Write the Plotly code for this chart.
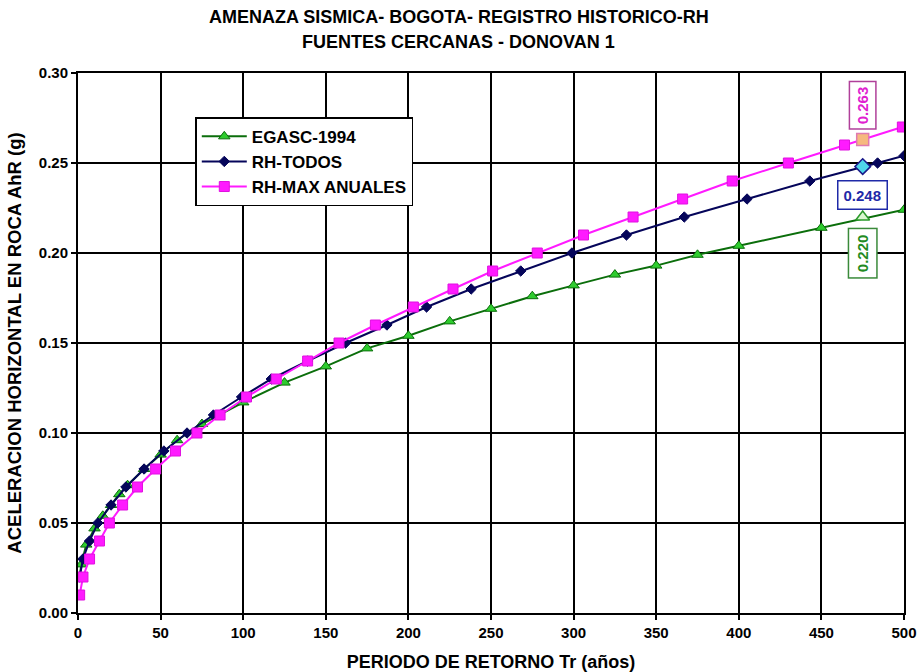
import plotly.graph_objects as go

# EGASC-1994 hazard curve (return period in years vs. rock acceleration in g)
egasc_tr = [1, 2, 5, 10, 15, 20, 25, 30, 40, 50, 60, 75, 100, 125, 150, 175, 200,
            225, 250, 275, 300, 325, 350, 375, 400, 450, 500]
egasc_a = [0.020, 0.027, 0.038, 0.047, 0.054, 0.060, 0.066, 0.071, 0.080, 0.088,
           0.096, 0.105, 0.117, 0.128, 0.137, 0.147, 0.154, 0.162, 0.169, 0.176,
           0.182, 0.188, 0.193, 0.199, 0.204, 0.214, 0.224]

# RH - all events
todos_tr = [1, 3, 7, 12, 20, 29, 40, 52, 66, 82, 99, 117, 139, 162, 187, 211, 238,
            268, 299, 332, 367, 405, 443, 484, 500]
todos_a = [0.020, 0.030, 0.040, 0.050, 0.060, 0.070, 0.080, 0.090, 0.100, 0.110,
           0.120, 0.130, 0.140, 0.150, 0.160, 0.170, 0.180, 0.190, 0.200, 0.210,
           0.220, 0.230, 0.240, 0.250, 0.254]

# RH - annual maxima
maxan_tr = [1, 3, 7, 13, 19, 27, 36, 47, 59, 72, 86, 102, 120, 139, 158, 180, 203,
            227, 251, 278, 306, 336, 366, 396, 430, 464, 499]
maxan_a = [0.010, 0.020, 0.030, 0.040, 0.050, 0.060, 0.070, 0.080, 0.090, 0.100,
           0.110, 0.120, 0.130, 0.140, 0.150, 0.160, 0.170, 0.180, 0.190, 0.200,
           0.210, 0.220, 0.230, 0.240, 0.250, 0.260, 0.270]

# Values at the 475-year design return period
design_tr = 475
design_egasc = 0.220
design_todos = 0.248
design_maxan = 0.263

title_lines = ["AMENAZA SISMICA- BOGOTA- REGISTRO HISTORICO-RH",
               "FUENTES CERCANAS - DONOVAN 1"]

FONT = "Liberation Sans, Arial, sans-serif"

fig = go.Figure()

fig.add_trace(go.Scatter(
    x=egasc_tr, y=egasc_a, name="<b>EGASC-1994</b>", mode="lines+markers",
    line=dict(color="#0b6e0b", width=2),
    marker=dict(symbol="triangle-up", size=10, color="#2ecc2e",
                line=dict(color="#0b6e0b", width=1)),
))
fig.add_trace(go.Scatter(
    x=todos_tr, y=todos_a, name="<b>RH-TODOS</b>", mode="lines+markers",
    line=dict(color="#05055a", width=2),
    marker=dict(symbol="diamond", size=8, color="#05055a",
                line=dict(color="#05055a", width=1)),
))
fig.add_trace(go.Scatter(
    x=maxan_tr, y=maxan_a, name="<b>RH-MAX ANUALES</b>", mode="lines+markers",
    line=dict(color="#ff1aff", width=2),
    marker=dict(symbol="square", size=10, color="#ff1aff",
                line=dict(color="#e010e0", width=1)),
))

# Highlighted design points
fig.add_trace(go.Scatter(
    x=[design_tr], y=[design_egasc], mode="markers", showlegend=False,
    marker=dict(symbol="triangle-up", size=12, color="#d9f7cf",
                line=dict(color="#2a9a2a", width=1.5)),
))
fig.add_trace(go.Scatter(
    x=[design_tr], y=[design_todos], mode="markers", showlegend=False,
    marker=dict(symbol="diamond", size=12, color="#4fd6ea",
                line=dict(color="#1a1a8a", width=1.5)),
))
fig.add_trace(go.Scatter(
    x=[design_tr], y=[design_maxan], mode="markers", showlegend=False,
    marker=dict(symbol="square", size=12, color="#f6b97e",
                line=dict(color="#e07ab0", width=1.5)),
))

annots = [
    dict(x=design_tr, y=0.2822, text=f"<b>{design_maxan:.3f}</b>", textangle=-90,
         font=dict(color="#e020d0", size=15, family=FONT),
         bordercolor="#b0409a", borderwidth=1.5, bgcolor="white", borderpad=4),
    dict(x=design_tr, y=0.2322, text=f"<b>{design_todos:.3f}</b>",
         font=dict(color="#1f2aa8", size=15, family=FONT),
         bordercolor="#1f2aa8", borderwidth=1.5, bgcolor="white", borderpad=5),
    dict(x=design_tr, y=0.2000, text=f"<b>{design_egasc:.3f}</b>", textangle=-90,
         font=dict(color="#228b22", size=15, family=FONT),
         bordercolor="#3a8a3a", borderwidth=1.5, bgcolor="white", borderpad=5),
]
for a in annots:
    a.update(xref="x", yref="y", showarrow=False)

# Two-line chart title, centred on the page
for i, line in enumerate(title_lines):
    annots.append(dict(
        xref="paper", yref="paper", x=(458.5 - 78) / 826, xanchor="center",
        y=(672 - 59 - (17 + 25 * i)) / (672 - 73 - 59), yanchor="middle",
        text=f"<b>{line}</b>", showarrow=False,
        font=dict(size=18, family=FONT, color="black"),
    ))

fig.update_layout(
    width=917, height=672,
    margin=dict(l=78, r=13, t=73, b=59, autoexpand=False),
    paper_bgcolor="white", plot_bgcolor="white",
    font=dict(family=FONT, color="black"),
    legend=dict(
        x=0.142, y=0.918, xanchor="left", yanchor="top",
        bgcolor="white", bordercolor="black", borderwidth=1.5,
        font=dict(size=17, family=FONT), tracegroupgap=0,
        itemwidth=45,
    ),
    annotations=annots,
    showlegend=True,
)

fig.update_xaxes(
    range=[0, 500], dtick=50, tick0=0, automargin=False,
    showgrid=True, gridcolor="black", gridwidth=1.5,
    showline=True, linecolor="black", linewidth=2, mirror=True,
    ticks="outside", ticklen=5, tickcolor="black", tickwidth=1.5,
    tickfont=dict(size=15, family=FONT),
    tickprefix="<b>", ticksuffix="</b>",
    title=dict(text="<b>PERIODO DE RETORNO Tr (años)</b>",
               font=dict(size=18, family=FONT), standoff=17),
    zeroline=False,
)
fig.update_yaxes(
    range=[0, 0.30], dtick=0.05, tick0=0, tickformat=".2f", automargin=False,
    showgrid=True, gridcolor="black", gridwidth=1.5,
    showline=True, linecolor="black", linewidth=2, mirror=True,
    ticks="outside", ticklen=5, tickcolor="black", tickwidth=1.5,
    tickfont=dict(size=15, family=FONT),
    tickprefix="<b>", ticksuffix="</b>",
    title=dict(text="<b>ACELERACION HORIZONTAL EN ROCA AhR (g)</b>",
               font=dict(size=18.5, family=FONT), standoff=12),
    zeroline=False,
)

fig.write_html("out.html")
